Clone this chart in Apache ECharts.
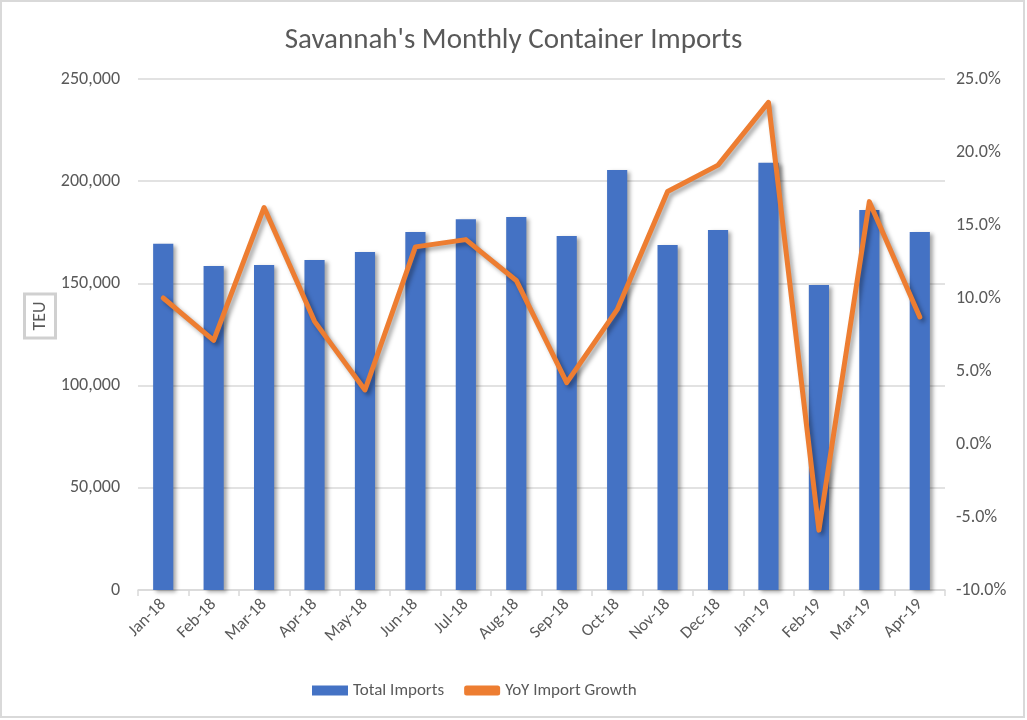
<!DOCTYPE html>
<html><head><meta charset="utf-8">
<script src="https://cdn.jsdelivr.net/npm/echarts@6/dist/echarts.min.js"></script>
<style>html,body{margin:0;padding:0;background:#fff}#c{width:1027px;height:720px}</style>
</head><body><div id="c"></div>
<script>
var categories = ['Jan-18','Feb-18','Mar-18','Apr-18','May-18','Jun-18','Jul-18','Aug-18','Sep-18','Oct-18','Nov-18','Dec-18','Jan-19','Feb-19','Mar-19','Apr-19'];
var totalImports = [169400,158500,159000,161400,165400,175100,181400,182500,173200,205500,168800,176100,209000,149200,185900,175100];
var yoyGrowth = [10.0,7.1,16.2,8.4,3.7,13.5,14.0,11.2,4.2,9.2,17.3,19.1,23.4,-5.9,16.6,8.7];
var leftTicks = {min:0,max:250000,interval:50000};
var rightTicks = {min:-10,max:25,interval:5};

var chart = echarts.init(document.getElementById('c'));
var txt = '#595959';
var font = 'Calibri, Carlito, Lato, "Liberation Sans", sans-serif';
chart.setOption({
  backgroundColor:'#fff',
  textStyle:{fontFamily:font},
  title:{text:"Savannah's Monthly Container Imports",left:'center',top:21,
    textStyle:{color:txt,fontSize:29,fontWeight:'normal',fontFamily:font}},
  grid:{left:138,right:82,top:79,bottom:130},
  legend:{bottom:16,left:307,itemGap:20,itemWidth:36,itemHeight:10,
    textStyle:{color:txt,fontSize:17,fontFamily:font},
    data:[{name:'Total Imports',icon:'rect'},{name:'YoY Import Growth',icon:'roundRect',itemStyle:{color:'#ED7D31'}}]},
  xAxis:{type:'category',data:categories,
    axisLine:{lineStyle:{color:'#d9d9d9',width:1.5}},
    axisTick:{show:true,length:6,lineStyle:{color:'#d9d9d9',width:1.5}},
    axisLabel:{rotate:45,color:txt,fontSize:17,margin:12,interval:0}},
  yAxis:[{type:'value',min:leftTicks.min,max:leftTicks.max,interval:leftTicks.interval,
    axisLine:{show:false},axisTick:{show:false},
    splitLine:{lineStyle:{color:'#d9d9d9',width:1.5}},
    axisLabel:{color:txt,fontSize:18,margin:18,formatter:function(v){return v.toLocaleString('en-US');}}},
   {type:'value',min:rightTicks.min,max:rightTicks.max,interval:rightTicks.interval,
    axisLine:{show:false},axisTick:{show:false},splitLine:{show:false},
    axisLabel:{color:txt,fontSize:18,margin:11,formatter:function(v){return v.toFixed(1)+'%';}}}],
  series:[
   {name:'Total Imports',type:'bar',data:totalImports,barWidth:'40%',
    itemStyle:{color:'#4472C4',shadowColor:'rgba(0,0,0,0.35)',shadowBlur:4,shadowOffsetX:3,shadowOffsetY:2}},
   {name:'YoY Import Growth',type:'line',yAxisIndex:1,data:yoyGrowth,symbol:'none',
    itemStyle:{color:'#ED7D31'},
    lineStyle:{color:'#ED7D31',width:5,cap:'round',join:'round',shadowColor:'rgba(0,0,0,0.35)',shadowBlur:4,shadowOffsetX:3,shadowOffsetY:3}}
  ],
  graphic:[
    {type:'rect',shape:{x:1,y:1,width:1023,height:716},style:{fill:'none',stroke:'#d9d9d9',lineWidth:2},silent:true},
    {type:'text',x:40,y:316,rotation:Math.PI/2,
     style:{text:'TEU',fill:txt,font:'18px '+font,align:'center',verticalAlign:'middle',
       borderColor:'#d0d0d0',borderWidth:3,padding:[6,6,4,6],backgroundColor:'#fff'}}
  ]
});
</script></body></html>
